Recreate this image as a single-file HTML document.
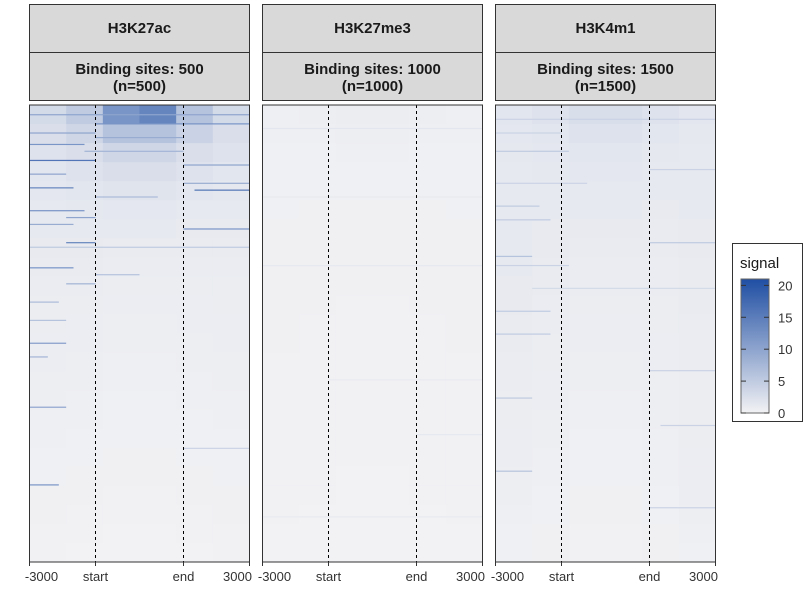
<!DOCTYPE html>
<html><head><meta charset="utf-8">
<style>
body{margin:0;background:#fff;width:811px;height:601px;overflow:hidden;font-family:"Liberation Sans",Arial,sans-serif}
svg text{font-family:"Liberation Sans",Arial,sans-serif}
</style></head>
<body>
<svg id="c" width="811" height="601"></svg>
<script>
const panelTitles=["H3K27ac","H3K27me3","H3K4m1"];
const panelSubtitles=["Binding sites: 500","Binding sites: 1000","Binding sites: 1500"];
const panelCounts=["(n=500)","(n=1000)","(n=1500)"];
const xTickLabels=["-3000","start","end","3000"];
const xTickPos=[-3000,-1200,1200,3000];
const legendTicks=[0,5,10,15,20];
const signalH3K27ac=[
[3,5,12,14,6,3],[2.5,3.5,6,6,4,2.5],[2,2.5,3.5,3.5,2.5,2],[1.6,2,2.5,2.5,2,1.6],[1.4,1.6,1.8,1.8,1.5,1.3],
[1.2,1.3,1.4,1.4,1.2,1.1],[1.1,1.1,1.1,1.1,1,1],[1,1,0.9,0.9,0.9,0.9],[0.9,0.9,0.8,0.8,0.8,0.8],
[0.8,0.8,0.7,0.7,0.7,0.7],[0.7,0.7,0.6,0.6,0.6,0.7],[0.7,0.6,0.5,0.5,0.6,0.6],[0.6,0.6,0.5,0.5,0.5,0.6],
[0.6,0.5,0.4,0.4,0.5,0.5],[0.5,0.5,0.4,0.4,0.4,0.5],[0.5,0.4,0.3,0.3,0.4,0.4],[0.4,0.4,0.3,0.3,0.3,0.4],
[0.4,0.3,0.3,0.3,0.3,0.3],[0.3,0.3,0.2,0.2,0.3,0.3],[0.3,0.2,0.2,0.2,0.2,0.3],[0.2,0.2,0.1,0.1,0.2,0.2],
[0.2,0.1,0.1,0.1,0.1,0.2],[0.1,0.1,0,0,0.1,0.1],[0.1,0,0,0,0,0.1]];
const signalH3K27me3=[
[0.4,0.5,0.7,0.7,0.5,0.4],[0.4,0.4,0.5,0.5,0.4,0.4],[0.3,0.3,0.4,0.4,0.3,0.3],[0.3,0.3,0.3,0.3,0.3,0.3],
[0.3,0.3,0.3,0.3,0.3,0.3],[0.3,0.2,0.2,0.2,0.2,0.3],[0.2,0.2,0.2,0.2,0.2,0.2],[0.2,0.2,0.2,0.2,0.2,0.2],
[0.2,0.2,0.2,0.2,0.2,0.2],[0.2,0.2,0.2,0.2,0.2,0.2],[0.2,0.2,0.1,0.1,0.2,0.2],[0.2,0.1,0.1,0.1,0.1,0.2],
[0.2,0.1,0.1,0.1,0.1,0.2],[0.1,0.1,0.1,0.1,0.1,0.1],[0.1,0.1,0.1,0.1,0.1,0.1],[0.1,0.1,0.1,0.1,0.1,0.1],
[0.1,0.1,0.1,0.1,0.1,0.1],[0.1,0.1,0.1,0.1,0.1,0.1],[0.1,0.1,0.1,0.1,0.1,0.1],[0.1,0.1,0,0,0.1,0.1],
[0.1,0.1,0,0,0.1,0.1],[0.1,0,0,0,0,0.1],[0,0,0,0,0,0],[0,0,0,0,0,0]];
const signalH3K4m1=[
[1.6,2,2.6,2.6,2,1.5],[1.4,1.6,2,2,1.6,1.3],[1.3,1.4,1.6,1.6,1.3,1.2],[1.2,1.3,1.4,1.4,1.2,1.1],
[1.2,1.2,1.2,1.2,1.1,1.1],[1.2,1.1,1.1,1.1,1,1.1],[1.1,1,1,1,0.9,1],[1.2,1,0.9,0.9,0.9,1],
[1.1,0.9,0.8,0.8,0.8,0.9],[1,0.9,0.8,0.8,0.8,0.9],[1,0.8,0.7,0.7,0.7,0.9],[0.9,0.8,0.6,0.6,0.7,0.8],
[0.9,0.7,0.6,0.6,0.6,0.8],[0.8,0.7,0.5,0.5,0.6,0.8],[0.8,0.6,0.5,0.5,0.5,0.7],[0.7,0.6,0.4,0.4,0.5,0.7],
[0.7,0.5,0.4,0.4,0.5,0.7],[0.6,0.5,0.3,0.3,0.4,0.7],[0.6,0.4,0.3,0.3,0.4,0.6],[0.5,0.4,0.3,0.3,0.4,0.6],
[0.5,0.3,0.2,0.2,0.3,0.6],[0.4,0.3,0.2,0.2,0.3,0.5],[0.3,0.2,0.1,0.1,0.2,0.4],[0.3,0.2,0.1,0.1,0.2,0.3]];
const streaksH3K27ac=[[0.02,-3000,3000,10],[0.04,-1200,3000,12],[0.06,-3000,-1200,10],[0.07,-1200,1200,9],[0.085,-3000,-1500,12],[0.1,-1500,1200,8],[0.12,-3000,-1200,16],[0.13,1200,3000,10],[0.15,-3000,-2000,10],[0.17,1200,3000,9],[0.18,-3000,-1800,14],[0.185,1500,3000,16],[0.2,-1200,500,7],[0.23,-3000,-1500,12],[0.245,-2000,-1200,10],[0.26,-3000,-1800,9],[0.27,1200,3000,12],[0.3,-2000,-1200,14],[0.31,-3000,3000,5],[0.355,-3000,-1800,12],[0.37,-1200,0,6],[0.39,-2000,-1200,8],[0.43,-3000,-2200,7],[0.47,-3000,-2000,6],[0.52,-3000,-2000,11],[0.55,-3000,-2500,8],[0.66,-3000,-2000,10],[0.83,-3000,-2200,12],[0.75,1200,3000,4]];
const streaksH3K27me3=[[0.05,-3000,3000,1.5],[0.2,-3000,3000,1.2],[0.35,-3000,3000,1.2],[0.6,-1200,3000,1],[0.72,1200,3000,1.2],[0.9,-3000,3000,1]];
const streaksH3K4m1=[[0.03,-3000,3000,4],[0.06,-3000,-1200,4],[0.1,-3000,-1000,5],[0.14,1200,3000,4],[0.17,-3000,-500,4],[0.22,-3000,-1800,5],[0.25,-3000,-1500,5],[0.3,1200,3000,5],[0.33,-3000,-2000,6],[0.35,-3000,-1000,4],[0.4,-2000,3000,3],[0.45,-3000,-1500,5],[0.5,-3000,-1500,5],[0.58,1200,3000,4],[0.64,-3000,-2000,5],[0.7,1500,3000,4],[0.8,-3000,-2000,6],[0.88,1200,3000,4]];

const signals=[signalH3K27ac,signalH3K27me3,signalH3K4m1];
const streaks=[streaksH3K27ac,streaksH3K27me3,streaksH3K4m1];
const NS="http://www.w3.org/2000/svg";
const svg=document.getElementById('c');
function mk(t,a,p){const e=document.createElementNS(NS,t);for(const k in a)e.setAttribute(k,a[k]);(p||svg).appendChild(e);return e;}
function col(v){const t=Math.max(0,Math.min(1,v/21));const a=[242,242,244],b=[31,78,163];
return `rgb(${a.map((x,i)=>Math.round(x+(b[i]-x)*t)).join(',')})`;}
const panelX=[29.5,262.5,495.5],W=220,plotTop=105,plotBot=562;
panelX.forEach((px,p)=>{
  const xs=v=>px+(v+3000)/6000*W;
  const g=mk('g',{});
  
  
  const s1=mk('rect',{x:px,y:4.5,width:W,height:48,fill:'#d9d9d9',stroke:'#333','stroke-width':1},g);
  
  
  const t1=mk('text',{x:px+W/2,y:33,'text-anchor':'middle','font-size':15,'font-weight':'bold',fill:'#1a1a1a'},g);t1.textContent=panelTitles[p];
  
  
  mk('rect',{x:px,y:52.5,width:W,height:48,fill:'#d9d9d9',stroke:'#333','stroke-width':1},g);
  const t2=mk('text',{x:px+W/2,y:74,'text-anchor':'middle','font-size':15,'font-weight':'bold',fill:'#1a1a1a'},g);t2.textContent=panelSubtitles[p];
  
  
  const t3=mk('text',{x:px+W/2,y:91,'text-anchor':'middle','font-size':15,'font-weight':'bold',fill:'#1a1a1a'},g);t3.textContent=panelCounts[p];
  
  
  const M=signals[p],rh=(plotBot-plotTop)/M.length,cw=W/M[0].length;
  M.forEach((row,i)=>row.forEach((v,j)=>{
    const r=mk('rect',{x:px+j*cw,y:plotTop+i*rh,width:cw+0.5,height:rh+0.5,fill:col(v)},g);
    
    
  }));
  streaks[p].forEach(s=>{
    const r=mk('rect',{x:xs(s[1]),y:plotTop+s[0]*(plotBot-plotTop),width:xs(s[2])-xs(s[1]),height:1.2,fill:col(s[3])},g);
    
    
  });
  [-1200,1200].forEach(v=>mk('line',{x1:xs(v),x2:xs(v),y1:plotTop,y2:plotBot,stroke:'#000','stroke-dasharray':'3,3','stroke-width':1},g));
  mk('rect',{x:px,y:plotTop,width:W,height:plotBot-plotTop,fill:'none',stroke:'#333','stroke-width':1},g);
  xTickPos.forEach((v,k)=>{
    mk('line',{x1:xs(v),x2:xs(v),y1:plotBot,y2:plotBot+4,stroke:'#333'},g);
    const tl=mk('text',{x:xs(v)+(k==0?12:k==3?-12:0),y:581,'text-anchor':'middle','font-size':13,fill:'#333'},g);
    tl.textContent=xTickLabels[k];
    
    
  });
});
const lg=mk('g',{});


mk('rect',{x:732.5,y:243.5,width:70,height:178,fill:'#fff',stroke:'#333'},lg);
const lt=mk('text',{x:740,y:268,'font-size':15,fill:'#1a1a1a'},lg);lt.textContent='signal';


const defs=mk('defs',{});const gr=mk('linearGradient',{id:'gr',x1:0,y1:1,x2:0,y2:0},defs);
mk('stop',{offset:0,'stop-color':col(0)},gr);mk('stop',{offset:1,'stop-color':col(21)},gr);
const cb=mk('rect',{x:741,y:279,width:28,height:134,fill:'url(#gr)',stroke:'#666'},lg);


const ly=v=>413-v/21*134;
legendTicks.forEach(v=>{
  mk('line',{x1:741,x2:746,y1:ly(v),y2:ly(v),stroke:'#333'},lg);
  mk('line',{x1:764,x2:769,y1:ly(v),y2:ly(v),stroke:'#333'},lg);
  const t=mk('text',{x:778,y:ly(v)+5,'font-size':13,fill:'#333'},lg);t.textContent=v;
  
  
});
</script>
</body></html>
